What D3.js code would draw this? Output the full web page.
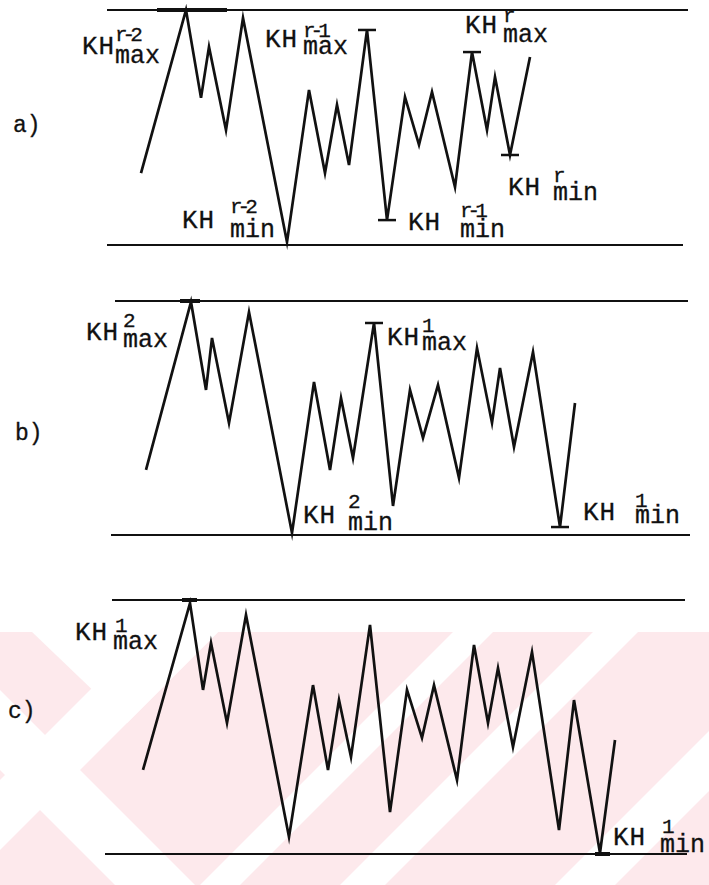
<!DOCTYPE html>
<html><head><meta charset="utf-8">
<script src="https://cdn.jsdelivr.net/npm/d3@7"></script>
<style>html,body{margin:0;background:#fff}svg{display:block}</style>
</head><body>
<svg id="chart" width="709" height="885"></svg>
<script>
// ---- data: time (t) and normalised KH value (0 = lower line, 100 = upper line)
const panelNames = ["a)", "b)", "c)"];

const tA = [4.1, 8.6, 10.1, 10.9, 12.6, 14.3, 18.7, 20.9, 22.5, 23.7, 24.9, 26.7, 28.7, 30.5, 31.9, 33.2, 35.5, 37.2, 38.7, 39.5, 41.0, 43.0];
const vA = [30.6, 100, 62.6, 84.3, 48.9, 96.6, 1.3, 66.0, 30.6, 59.6, 34.0, 91.5, 10.6, 63.0, 42.6, 65.1, 24.7, 82.1, 48.9, 71.5, 38.3, 80.0];

const tB = [4.6, 9.1, 10.6, 11.2, 12.9, 14.9, 19.2, 21.4, 23.0, 24.1, 25.3, 27.4, 29.3, 31.0, 32.3, 33.8, 35.9, 37.7, 39.2, 40.0, 41.4, 43.3, 46.0, 47.5];
const vB = [27.8, 99.6, 62.0, 84.2, 47.9, 95.3, 0.9, 65.4, 27.8, 58.5, 32.9, 90.6, 12.4, 62.0, 41.5, 64.1, 24.4, 79.9, 47.9, 71.4, 37.6, 78.2, 3.4, 56.4];

const tC = [4.3, 9.0, 10.3, 11.1, 12.7, 14.6, 18.9, 21.3, 22.8, 23.9, 25.1, 27.0, 29.0, 30.7, 32.2, 33.4, 35.7, 37.4, 38.8, 39.8, 41.3, 43.2, 45.9, 47.4, 50.0, 51.5];
const vC = [33.1, 98.8, 64.6, 83.1, 51.6, 94.1, 6.7, 66.5, 33.1, 60.6, 38.2, 90.2, 16.5, 64.6, 45.7, 66.5, 29.1, 82.3, 51.6, 73.2, 42.1, 79.5, 9.4, 60.6, 0.4, 44.9];

// indices of extremes marked with a short bar
const barsA = [11, 12, 17, 20];
const barsB = [11, 22];
const barsC = [];

// label texts: [base, superscript, subscript]
const labelsA = [["KH", "r-2", "max"], ["KH", "r-1", "max"], ["KH", "r", "max"], ["KH", "r-2", "min"], ["KH", "r-1", "min"], ["KH", "r", "min"]];
const labelsB = [["KH", "2", "max"], ["KH", "1", "max"], ["KH", "2", "min"], ["KH", "1", "min"]];
const labelsC = [["KH", "1", "max"], ["KH", "1", "min"]];

// ---- layout
const svg = d3.select("#chart");
const x = d3.scaleLinear().domain([0, 60]).range([100, 700]);

const layout = [
  {t: tA, v: vA, bars: barsA, labels: labelsA, top: 10, bottom: 245,
   lineTop: [107, 688], lineBot: [107, 683], name: [13, 132],
   thick: [[157, 227, "top"]],
   pos: [[[82,54],[115,41],[115,63]], [[265,47],[303,37],[303,54]], [[465,33],[503,22],[503,42]],
         [[182,228],[230,213],[230,237]], [[408,230],[460,217],[460,237]], [[508,195],[553,182],[553,200]]]},
  {t: tB, v: vB, bars: barsB, labels: labelsB, top: 301, bottom: 535,
   lineTop: [115, 688], lineBot: [111, 690], name: [15, 440],
   thick: [[180, 200, "top"]],
   pos: [[[86,340],[123,327],[123,347]], [[387,345],[422,332],[422,350]],
         [[303,523],[348,508],[348,530]], [[583,520],[635,507],[635,523]]]},
  {t: tC, v: vC, bars: barsC, labels: labelsC, top: 600, bottom: 854,
   lineTop: [112, 685], lineBot: [105, 687], name: [8, 718],
   thick: [[182, 197, "top"], [595, 610, "bottom"]],
   pos: [[[75,640],[115,632],[113,649]], [[613,845],[662,833],[660,852]]]}
];

// ---- background watermark (pale pink with white diagonal bands)
const Y0 = 632, Y1 = 885;
const defs = svg.append("defs");
defs.append("clipPath").attr("id", "wmclip")
  .append("rect").attr("x", 0).attr("y", Y0).attr("width", 709).attr("height", Y1 - Y0);
const wmG = svg.append("g").attr("clip-path", "url(#wmclip)");
wmG.append("rect").attr("x", 0).attr("y", Y0).attr("width", 709).attr("height", Y1 - Y0).attr("fill", "#fde9ec");
const poly = pts => wmG.append("polygon").attr("fill", "#fff").attr("points", pts.map(p => p.join(",")).join(" "));
// "/" band between x + y = c1 and c2
const slash = (c1, c2) => poly([[c1 - Y0, Y0], [c2 - Y0, Y0], [c2 - Y1, Y1], [c1 - Y1, Y1]]);
// "\" band between x - y = c1 and c2
const back = (c1, c2) => poly([[c1 + Y0, Y0], [c2 + Y0, Y0], [c2 + Y1, Y1], [c1 + Y1, Y1]]);
poly([[32, Y0], [218, Y0], [127, 723]]);
slash(780, 850);
back(-770, -690);
slash(1085, 1125);
slash(1225, 1270);
slash(1440, 1500);

const ink = "#111";
const fontFam = "'Liberation Mono', 'DejaVu Sans Mono', monospace";

layout.forEach((P, i) => {
  const y = d3.scaleLinear().domain([0, 100]).range([P.bottom, P.top]);
  const g = svg.append("g");

  // boundary lines
  g.append("line").attr("x1", P.lineTop[0]).attr("x2", P.lineTop[1]).attr("y1", y(100)).attr("y2", y(100))
    .attr("stroke", ink).attr("stroke-width", 2.2);
  g.append("line").attr("x1", P.lineBot[0]).attr("x2", P.lineBot[1]).attr("y1", y(0)).attr("y2", y(0))
    .attr("stroke", ink).attr("stroke-width", 2.2);
  P.thick.forEach(([a, b, which]) => {
    const yy = which === "top" ? y(100) : y(0);
    g.append("line").attr("x1", a).attr("x2", b).attr("y1", yy).attr("y2", yy)
      .attr("stroke", ink).attr("stroke-width", 4);
  });

  // zigzag
  const pts = P.t.map((t, k) => [t, P.v[k]]);
  const line = d3.line().x(d => x(d[0])).y(d => y(d[1]));
  g.append("path").attr("d", line(pts)).attr("fill", "none").attr("stroke", ink)
    .attr("stroke-width", 2.7).attr("stroke-linejoin", "miter").attr("stroke-miterlimit", 6);

  // extreme bars
  P.bars.forEach(k => {
    g.append("line").attr("x1", x(P.t[k]) - 9).attr("x2", x(P.t[k]) + 9)
      .attr("y1", y(P.v[k])).attr("y2", y(P.v[k])).attr("stroke", ink).attr("stroke-width", 2.5);
  });

  // panel name
  g.append("text").attr("x", P.name[0]).attr("y", P.name[1]).text(panelNames[i])
    .attr("font-family", fontFam).attr("font-size", 23).attr("fill", ink)
    .attr("stroke", ink).attr("stroke-width", 0.3);

  // labels: one text element, base + stacked superscript / subscript
  P.labels.forEach((L, k) => {
    const [pb, ps, pu] = P.pos[k];
    const t = g.append("text").attr("font-family", fontFam).attr("fill", ink)
      .attr("stroke", ink).attr("stroke-width", 0.3);
    t.append("tspan").attr("x", pb[0]).attr("y", pb[1]).attr("font-size", 26).attr("letter-spacing", 1).text(L[0]);
    t.append("tspan").attr("x", ps[0]).attr("y", ps[1]).attr("font-size", 21)
      .attr("letter-spacing", L[1].length > 1 ? -5 : 0).text(L[1]);
    t.append("tspan").attr("x", pu[0]).attr("y", pu[1]).attr("font-size", 25).attr("letter-spacing", 0).text(L[2]);
  });
});
</script>
</body></html>
